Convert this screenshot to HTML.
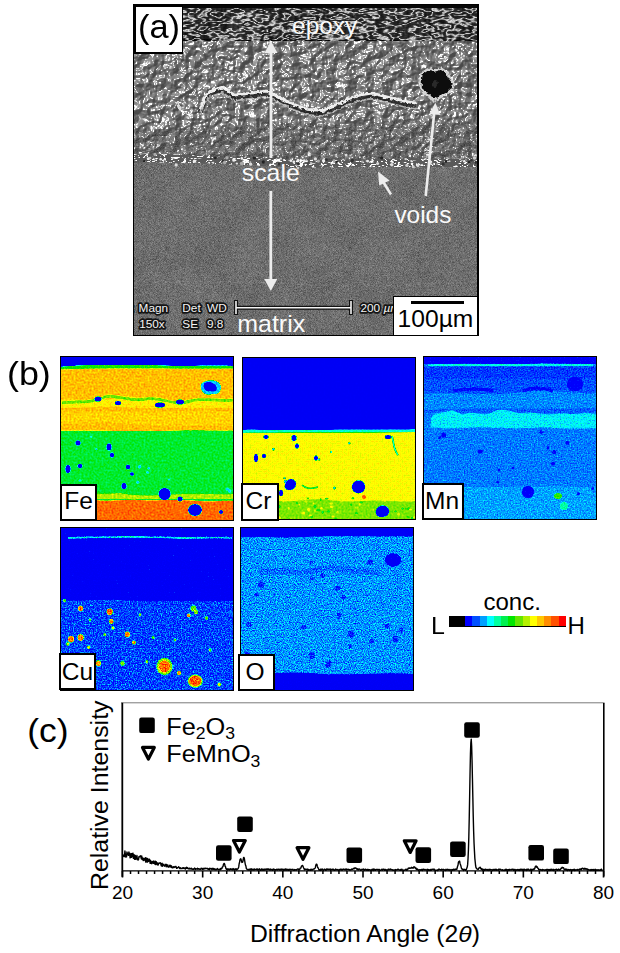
<!DOCTYPE html>
<html><head><meta charset="utf-8"><title>Figure</title>
<style>
html,body{margin:0;padding:0;background:#fff;}
body{width:620px;height:953px;position:relative;overflow:hidden;font-family:'Liberation Sans', Arial, sans-serif;}
.abs{position:absolute;}
.lbl{position:absolute;background:#fff;border:2.5px solid #000;box-sizing:border-box;color:#000;font-size:23px;line-height:1;}
</style></head><body>
<div class="abs" style="left:133px;top:4px;width:346px;height:332px;overflow:hidden;background:#666"><svg width="346" height="332" viewBox="0 0 346 332" style="position:absolute;left:0;top:0"><defs>
<filter id="fm" x="0" y="0" width="100%" height="100%" color-interpolation-filters="sRGB">
 <feTurbulence type="fractalNoise" baseFrequency="1.4" numOctaves="2" seed="4" result="n"/>
 <feColorMatrix in="n" type="matrix" values="1 0 0 0 0 1 0 0 0 0 1 0 0 0 0 0 0 0 0 1" result="g0"/>
 <feGaussianBlur in="g0" stdDeviation="0.45" result="g"/>
 <feTurbulence type="fractalNoise" baseFrequency="0.03" numOctaves="2" seed="9" result="n2"/>
 <feColorMatrix in="n2" type="matrix" values="1 0 0 0 0 1 0 0 0 0 1 0 0 0 0 0 0 0 0 1" result="g2"/>
 <feComposite in="SourceGraphic" in2="g" operator="arithmetic" k1="0" k2="1" k3="0.42" k4="-0.21" result="a"/>
 <feComposite in="a" in2="g2" operator="arithmetic" k1="0" k2="1" k3="0.06" k4="-0.03"/>
</filter>
<filter id="fs" x="0" y="0" width="100%" height="100%" color-interpolation-filters="sRGB">
 <feTurbulence type="fractalNoise" baseFrequency="0.11" numOctaves="4" seed="2" result="n"/>
 <feDiffuseLighting in="n" surfaceScale="7" diffuseConstant="1" lighting-color="#fff" result="d"><feDistantLight azimuth="225" elevation="45"/></feDiffuseLighting>
 <feSpecularLighting in="n" surfaceScale="7" specularConstant="1" specularExponent="25" lighting-color="#fff" result="sp"><feDistantLight azimuth="225" elevation="45"/></feSpecularLighting>
 <feColorMatrix in="sp" type="matrix" values="0 0 0 1 0 0 0 0 1 0 0 0 0 1 0 0 0 0 0 1" result="spg"/>
 <feComposite in="SourceGraphic" in2="d" operator="arithmetic" k1="0" k2="1" k3="0.28" k4="-0.18" result="a"/>
 <feComposite in="a" in2="spg" operator="arithmetic" k1="0" k2="1" k3="0.75" k4="0"/>
</filter>
<filter id="fs2" x="0" y="0" width="100%" height="100%" color-interpolation-filters="sRGB">
 <feTurbulence type="fractalNoise" baseFrequency="0.11" numOctaves="4" seed="2" result="n"/>
 <feDiffuseLighting in="n" surfaceScale="7" diffuseConstant="1" lighting-color="#fff" result="d"><feDistantLight azimuth="225" elevation="45"/></feDiffuseLighting>
 <feSpecularLighting in="n" surfaceScale="7" specularConstant="1" specularExponent="35" lighting-color="#fff" result="sp"><feDistantLight azimuth="225" elevation="45"/></feSpecularLighting>
 <feColorMatrix in="sp" type="matrix" values="0 0 0 1 0 0 0 0 1 0 0 0 0 1 0 0 0 0 0 1" result="spg"/>
 <feTurbulence type="fractalNoise" baseFrequency="0.8" numOctaves="1" seed="5" result="n3"/>
 <feColorMatrix in="n3" type="matrix" values="1 0 0 0 0 1 0 0 0 0 1 0 0 0 0 0 0 0 0 1" result="g3"/>
 <feComposite in="SourceGraphic" in2="d" operator="arithmetic" k1="0" k2="1" k3="0.2" k4="-0.13" result="a"/>
 <feComposite in="a" in2="spg" operator="arithmetic" k1="0" k2="1" k3="0.55" k4="0" result="b"/>
 <feComposite in="b" in2="g3" operator="arithmetic" k1="0" k2="1" k3="0.3" k4="-0.15"/>
</filter>
<filter id="fs3" x="0" y="0" width="100%" height="100%" color-interpolation-filters="sRGB">
 <feTurbulence type="fractalNoise" baseFrequency="0.14 0.25" numOctaves="2" seed="12" result="n"/>
 <feSpecularLighting in="n" surfaceScale="6" specularConstant="1.3" specularExponent="8" lighting-color="#fff" result="sp">
  <feDistantLight azimuth="225" elevation="50"/>
 </feSpecularLighting>
 <feColorMatrix in="sp" type="matrix" values="0 0 0 1 0 0 0 0 1 0 0 0 0 1 0 0 0 0 0 1" result="spg"/>
 <feComponentTransfer in="spg" result="spt"><feFuncR type="table" tableValues="0 0 0.1 0.6 1 1"/><feFuncG type="table" tableValues="0 0 0.1 0.6 1 1"/><feFuncB type="table" tableValues="0 0 0.1 0.6 1 1"/></feComponentTransfer>
 <feComposite in="SourceGraphic" in2="spt" operator="arithmetic" k1="0" k2="1" k3="0.7" k4="0"/>
</filter>
<filter id="rough" x="-10%" y="-30%" width="120%" height="160%">
 <feTurbulence type="fractalNoise" baseFrequency="0.3" numOctaves="2" seed="3" result="t"/>
 <feDisplacementMap in="SourceGraphic" in2="t" scale="4" xChannelSelector="R" yChannelSelector="G"/>
</filter>
<filter id="fe" x="0" y="0" width="100%" height="100%" color-interpolation-filters="sRGB">
 <feTurbulence type="fractalNoise" baseFrequency="0.05 0.11" numOctaves="3" seed="11" result="n"/>
 <feColorMatrix in="n" type="matrix" values="1 0 0 0 0 1 0 0 0 0 1 0 0 0 0 0 0 0 0 1" result="g"/>
 <feComponentTransfer in="g" result="r"><feFuncR type="table" tableValues="0 0 0 0 0.1 0.9 0.1 0 0.1 0.9 0.1 0 0.1 0.9 0.1 0 0 0 0"/><feFuncG type="table" tableValues="0 0 0 0 0.1 0.9 0.1 0 0.1 0.9 0.1 0 0.1 0.9 0.1 0 0 0 0"/><feFuncB type="table" tableValues="0 0 0 0 0.1 0.9 0.1 0 0.1 0.9 0.1 0 0.1 0.9 0.1 0 0 0 0"/></feComponentTransfer>
 <feGaussianBlur in="r" stdDeviation="0.35" result="rb"/>
 <feTurbulence type="fractalNoise" baseFrequency="0.3 0.02" numOctaves="2" seed="21" result="v"/>
 <feColorMatrix in="v" type="matrix" values="1 0 0 0 0 1 0 0 0 0 1 0 0 0 0 0 0 0 0 1" result="vg"/>
 <feComposite in="SourceGraphic" in2="rb" operator="arithmetic" k1="0" k2="1" k3="0.85" k4="0" result="a"/>
 <feComposite in="a" in2="vg" operator="arithmetic" k1="0" k2="1" k3="0.22" k4="-0.11"/>
</filter>
<filter id="blur1"><feGaussianBlur stdDeviation="0.6"/></filter>
<clipPath id="cm"><path d="M0 160 L346 160 L346 332 L0 332 Z"/></clipPath>
</defs><g filter="url(#fm)"><rect x="0" y="0" width="346" height="332" fill="#6d6d6d"/><path d="M0 279 C60 276 120 277 180 281 C240 284 300 279 346 278" stroke="#7c7c7c" stroke-width="1.6" fill="none" stroke-dasharray="6 5 3 7"/><ellipse cx="40" cy="240" rx="25" ry="14" fill="#707070"/><ellipse cx="240" cy="270" rx="20" ry="12" fill="#6f6f6f"/></g><clipPath id="c1"><path d="M0 36 L346 36 L346 163 C300 164 250 162 200 163.5 C150 164 80 158 0 158.5 Z"/></clipPath><clipPath id="c2"><path d="M0 36 L346 36 L346 118 C300 122 280 112 250 118 C200 128 150 110 110 122 C80 132 60 118 40 126 C20 132 10 124 0 128 Z"/></clipPath><clipPath id="c3"><path d="M0 150 C40 149 80 153 120 154 C160 155 200 157 240 155 C280 153 320 156 346 154 L346 163 C300 164 250 162 200 163.5 C150 164 80 158 0 158.5 Z"/></clipPath><g clip-path="url(#c1)"><rect x="0" y="30" width="346" height="140" fill="#6c6c6c" filter="url(#fs2)"/></g><g clip-path="url(#c2)"><rect x="0" y="30" width="346" height="110" fill="#787878" filter="url(#fs)"/></g><g clip-path="url(#c3)"><rect x="0" y="145" width="346" height="25" fill="#5a5a5a" filter="url(#fs3)"/></g><g filter="url(#fe)"><path d="M0 0 L346 0 L346 36 C300 37 250 35 200 36 C150 37 60 34 0 36 Z" fill="#1c1c1c"/></g><rect x="0" y="0" width="346" height="4" fill="#080808"/><g filter="url(#rough)"><polyline points="67.2,108.3 71.0,97.0 77.3,90.1 89.4,86.1 101.5,94.2 117.6,92.1 133.8,90.1 145.9,96.2 158.0,102.2 174.0,108.3 190.2,109.5 206.4,102.2 214.4,98.2 226.5,94.2 238.6,92.1 254.7,96.2 270.9,100.2 283.0,102.2" fill="none" stroke="#1e1e1e" stroke-width="5" stroke-linejoin="round" opacity="0.85"/><polyline points="67.2,110.8 71.0,99.5 77.3,92.6 89.4,88.6 101.5,96.7 117.6,94.6 133.8,92.6 145.9,98.7 158.0,104.7 174.0,110.8 190.2,112.0 206.4,104.7 214.4,100.7 226.5,96.7 238.6,94.6 254.7,98.7 270.9,102.7 283.0,104.7" fill="none" stroke="#cfcfcf" stroke-width="1.6" stroke-linejoin="round" opacity="0.8"/><polyline points="67.2,105.3 71.0,94.0 77.3,87.1 89.4,83.1 101.5,91.2 117.6,89.1 133.8,87.1 145.9,93.2 158.0,99.2 174.0,105.3 190.2,106.5 206.4,99.2 214.4,95.2 226.5,91.2 238.6,89.1 254.7,93.2 270.9,97.2 283.0,99.2" fill="none" stroke="#eeeeee" stroke-width="2.8" stroke-linejoin="round"/><path d="M43.5 97 L46 104 L48 106" stroke="#ddd" stroke-width="2.5" fill="none"/></g><g filter="url(#blur1)"><circle cx="82.3" cy="153.9" r="1.4" fill="#222"/><circle cx="201.0" cy="156.7" r="1.4" fill="#aaa"/><circle cx="89.7" cy="156.8" r="1.2" fill="#333"/><circle cx="164.8" cy="164.1" r="1.4" fill="#ccc"/><circle cx="80.2" cy="158.8" r="1.1" fill="#ddd"/><circle cx="232.3" cy="161.8" r="0.8" fill="#333"/><circle cx="14.8" cy="155.9" r="1.0" fill="#333"/><circle cx="248.7" cy="153.9" r="1.7" fill="#222"/><circle cx="272.7" cy="155.0" r="1.3" fill="#ccc"/><circle cx="304.1" cy="160.1" r="0.8" fill="#ccc"/><circle cx="171.2" cy="156.8" r="1.6" fill="#eee"/><circle cx="145.7" cy="160.0" r="1.6" fill="#333"/><circle cx="121.4" cy="153.9" r="1.7" fill="#222"/><circle cx="316.8" cy="157.2" r="0.7" fill="#eee"/><circle cx="342.9" cy="158.3" r="1.6" fill="#333"/><circle cx="313.0" cy="157.5" r="1.3" fill="#222"/><circle cx="226.8" cy="153.2" r="1.0" fill="#ddd"/><circle cx="22.0" cy="150.4" r="1.6" fill="#aaa"/><circle cx="30.6" cy="156.1" r="0.9" fill="#eee"/><circle cx="147.8" cy="154.6" r="1.2" fill="#ddd"/><circle cx="15.3" cy="154.7" r="1.5" fill="#eee"/><circle cx="190.6" cy="156.8" r="1.7" fill="#eee"/><circle cx="174.9" cy="158.9" r="0.8" fill="#333"/><circle cx="185.3" cy="157.1" r="1.7" fill="#aaa"/><circle cx="100.9" cy="155.9" r="1.8" fill="#eee"/><circle cx="108.6" cy="159.6" r="1.8" fill="#aaa"/><circle cx="130.4" cy="158.0" r="1.7" fill="#222"/><circle cx="193.5" cy="155.7" r="1.4" fill="#333"/><circle cx="93.9" cy="153.8" r="1.7" fill="#aaa"/><circle cx="338.3" cy="156.3" r="1.3" fill="#333"/><circle cx="117.3" cy="157.9" r="1.0" fill="#aaa"/><circle cx="213.1" cy="151.1" r="1.4" fill="#ddd"/><circle cx="219.2" cy="156.5" r="1.7" fill="#333"/><circle cx="244.6" cy="159.6" r="1.5" fill="#ddd"/><circle cx="203.9" cy="157.8" r="1.1" fill="#222"/><circle cx="157.9" cy="156.7" r="1.4" fill="#eee"/><circle cx="61.4" cy="157.2" r="1.6" fill="#eee"/><circle cx="103.9" cy="159.6" r="1.1" fill="#ddd"/><circle cx="336.1" cy="158.4" r="1.3" fill="#222"/><circle cx="278.1" cy="157.1" r="1.0" fill="#ccc"/><circle cx="234.6" cy="157.1" r="1.4" fill="#eee"/><circle cx="233.5" cy="156.9" r="0.9" fill="#ccc"/><circle cx="27.7" cy="155.2" r="1.3" fill="#eee"/><circle cx="77.9" cy="154.4" r="0.8" fill="#333"/><circle cx="331.3" cy="157.2" r="1.3" fill="#eee"/><circle cx="117.7" cy="160.2" r="1.6" fill="#ddd"/><circle cx="279.0" cy="157.6" r="1.0" fill="#eee"/><circle cx="160.8" cy="157.8" r="1.4" fill="#eee"/><circle cx="145.2" cy="152.5" r="0.9" fill="#ddd"/><circle cx="165.2" cy="159.6" r="1.6" fill="#333"/><circle cx="341.5" cy="154.0" r="1.7" fill="#ccc"/><circle cx="11.2" cy="157.3" r="1.2" fill="#222"/><circle cx="258.8" cy="160.7" r="1.7" fill="#ddd"/><circle cx="296.9" cy="157.8" r="1.8" fill="#ddd"/><circle cx="280.3" cy="162.8" r="1.5" fill="#ccc"/><circle cx="310.2" cy="159.9" r="1.7" fill="#333"/><circle cx="17.1" cy="154.1" r="1.3" fill="#ccc"/><circle cx="229.4" cy="157.8" r="1.3" fill="#aaa"/><circle cx="18.4" cy="156.1" r="0.8" fill="#333"/><circle cx="165.1" cy="156.3" r="1.6" fill="#eee"/><circle cx="76.4" cy="159.2" r="0.8" fill="#ccc"/><circle cx="273.9" cy="161.4" r="1.7" fill="#ccc"/><circle cx="284.9" cy="161.4" r="1.6" fill="#ddd"/><circle cx="261.7" cy="158.2" r="1.0" fill="#333"/><circle cx="182.4" cy="154.9" r="1.6" fill="#ddd"/><circle cx="296.5" cy="159.6" r="1.6" fill="#ddd"/><circle cx="43.1" cy="160.9" r="1.6" fill="#ddd"/><circle cx="178.3" cy="159.5" r="1.2" fill="#ccc"/><circle cx="108.8" cy="154.4" r="1.3" fill="#eee"/><circle cx="91.7" cy="158.6" r="1.8" fill="#aaa"/></g><g filter="url(#rough)"><path d="M288.6 69.4 L294.4 65.5 L301.2 66.5 L308 64.6 L313.8 68.4 L317.7 75.2 L321.5 80 L318.6 85.8 L313.8 89.7 L306 93.6 L300.2 96.5 L296.4 91.7 L291.5 89.7 L287.6 83 L287.6 76.2 Z" fill="#0a0a0a" stroke="#d4d4d4" stroke-width="2.4" stroke-linejoin="round"/><ellipse cx="302" cy="80" rx="3" ry="4" fill="#2a2a2a"/></g><g fill="#ececec" stroke="none"><rect x="136.6" y="47" width="2.8" height="107"/><path d="M138 37 L144.5 49 L131.5 49 Z"/><rect x="136.4" y="187" width="2.8" height="92"/><path d="M137.8 287 L144.3 275 L131.3 275 Z"/></g><line x1="292.7" y1="192" x2="301.3" y2="108" stroke="#ececec" stroke-width="2.6"/><path d="M302.3 98.5 L307.4 111 L296.6 110 Z" fill="#ececec"/><line x1="258" y1="190.5" x2="249" y2="176" stroke="#ececec" stroke-width="2.6"/><path d="M245 167.4 L256.5 176.4 L246.2 181.6 Z" fill="#ececec"/><g stroke="#111" stroke-width="4"><line x1="103" y1="303.7" x2="218" y2="303.7"/><line x1="103" y1="296" x2="103" y2="311"/><line x1="218" y1="296" x2="218" y2="311"/></g><g stroke="#f4f4f4" stroke-width="1.6"><line x1="103" y1="303.7" x2="218" y2="303.7"/><line x1="103" y1="297" x2="103" y2="310"/><line x1="218" y1="297" x2="218" y2="310"/></g><g font-family="'Liberation Sans', Arial, sans-serif" font-size="11.8" fill="#f4f4f4" stroke="#151515" stroke-width="3.4" stroke-linejoin="round" paint-order="stroke"><text x="-3.5" y="308">t</text><text x="5.6" y="308">Magn</text><text x="6.2" y="323.5">150x</text><text x="49.3" y="308">Det</text><text x="49.3" y="323.5">SE</text><text x="74" y="308">WD</text><text x="74" y="323.5">9.8</text><text x="227.5" y="307.5">200 <tspan font-style="italic">µm</tspan></text></g><g font-family="'Liberation Sans', Arial, sans-serif" font-size="24" fill="#fafafa"><text x="159.1" y="30" textLength="65" lengthAdjust="spacingAndGlyphs">epoxy</text><text x="108.8" y="176.9" textLength="57.9" lengthAdjust="spacingAndGlyphs">scale</text><text x="261.4" y="219.1" textLength="57" lengthAdjust="spacingAndGlyphs">voids</text><text x="104.2" y="327.6" textLength="68" lengthAdjust="spacingAndGlyphs">matrix</text></g></svg><div class="abs" style="left:0;top:0;width:50px;height:49.8px;box-sizing:border-box;background:#fff;border:solid #000;border-width:3.7px 1.8px 2px 3.4px;"></div><div class="abs" style="left:5.2px;top:5.5px;font-size:33.5px;transform:scaleX(1.025);transform-origin:0 0;line-height:1;color:#000">(a)</div><div class="abs" style="left:259.5px;top:291.6px;width:86.5px;height:40.4px;background:#fff;border-left:1.5px solid #000;border-top:1.5px solid #000;"></div><div class="abs" style="left:277.5px;top:297.3px;width:53.5px;height:3px;background:#000"></div><div class="abs" style="left:264.6px;top:303.3px;font-size:24.6px;line-height:1;color:#000">100µm</div><div class="abs" style="left:0;top:0;width:346px;height:332px;box-sizing:border-box;border:1.5px solid #000;border-right-width:2px"></div></div><svg width="0" height="0" style="position:absolute"><defs><filter id="jfe" x="0" y="0" width="100%" height="100%" color-interpolation-filters="sRGB">
 <feTurbulence type="fractalNoise" baseFrequency="0.5" numOctaves="2" seed="3" result="n"/>
 <feColorMatrix in="n" type="matrix" values="1 0 0 0 0 1 0 0 0 0 1 0 0 0 0 0 0 0 0 1" result="gn"/>
 <feComposite in="SourceGraphic" in2="gn" operator="arithmetic" k1="0" k2="1" k3="0.2" k4="-0.100" result="s"/>
 <feComponentTransfer in="s" result="c"><feFuncR type="table" tableValues="0.000 0.000 0.000 0.000 0.000 0.000 0.000 0.000 0.000 0.392 0.706 1.000 1.000 1.000 1.000 1.000"/><feFuncG type="table" tableValues="0.000 0.000 0.000 0.314 0.627 1.000 1.000 0.941 0.902 0.902 0.941 1.000 0.784 0.549 0.314 0.000"/><feFuncB type="table" tableValues="0.961 0.980 1.000 1.000 1.000 1.000 0.627 0.314 0.000 0.000 0.000 0.000 0.000 0.000 0.000 0.000"/></feComponentTransfer>
 <feGaussianBlur in="c" stdDeviation="0.4"/>
</filter><filter id="jcr" x="0" y="0" width="100%" height="100%" color-interpolation-filters="sRGB">
 <feTurbulence type="fractalNoise" baseFrequency="0.5" numOctaves="2" seed="4" result="n"/>
 <feColorMatrix in="n" type="matrix" values="1 0 0 0 0 1 0 0 0 0 1 0 0 0 0 0 0 0 0 1" result="gn"/>
 <feComposite in="SourceGraphic" in2="gn" operator="arithmetic" k1="0" k2="1" k3="0.14" k4="-0.070" result="s"/>
 <feComponentTransfer in="s" result="c"><feFuncR type="table" tableValues="0.000 0.000 0.000 0.000 0.000 0.000 0.000 0.000 0.000 0.392 0.706 1.000 1.000 1.000 1.000 1.000"/><feFuncG type="table" tableValues="0.000 0.000 0.000 0.314 0.627 1.000 1.000 0.941 0.902 0.902 0.941 1.000 0.784 0.549 0.314 0.000"/><feFuncB type="table" tableValues="0.961 0.980 1.000 1.000 1.000 1.000 0.627 0.314 0.000 0.000 0.000 0.000 0.000 0.000 0.000 0.000"/></feComponentTransfer>
 <feGaussianBlur in="c" stdDeviation="0.4"/>
</filter><filter id="jmn" x="0" y="0" width="100%" height="100%" color-interpolation-filters="sRGB">
 <feTurbulence type="fractalNoise" baseFrequency="0.7" numOctaves="2" seed="5" result="n"/>
 <feColorMatrix in="n" type="matrix" values="1 0 0 0 0 1 0 0 0 0 1 0 0 0 0 0 0 0 0 1" result="gn"/>
 <feComposite in="SourceGraphic" in2="gn" operator="arithmetic" k1="0" k2="1" k3="0.22" k4="-0.110" result="s"/>
 <feComponentTransfer in="s" result="c"><feFuncR type="table" tableValues="0.000 0.000 0.000 0.000 0.000 0.000 0.000 0.000 0.000 0.392 0.706 1.000 1.000 1.000 1.000 1.000"/><feFuncG type="table" tableValues="0.000 0.000 0.000 0.314 0.627 1.000 1.000 0.941 0.902 0.902 0.941 1.000 0.784 0.549 0.314 0.000"/><feFuncB type="table" tableValues="0.961 0.980 1.000 1.000 1.000 1.000 0.627 0.314 0.000 0.000 0.000 0.000 0.000 0.000 0.000 0.000"/></feComponentTransfer>
 <feGaussianBlur in="c" stdDeviation="0.7"/>
</filter><filter id="jcu" x="0" y="0" width="100%" height="100%" color-interpolation-filters="sRGB">
 <feTurbulence type="fractalNoise" baseFrequency="0.75" numOctaves="2" seed="6" result="n"/>
 <feColorMatrix in="n" type="matrix" values="1 0 0 0 0 1 0 0 0 0 1 0 0 0 0 0 0 0 0 1" result="gn"/>
 <feComposite in="SourceGraphic" in2="gn" operator="arithmetic" k1="0" k2="1" k3="0.45" k4="-0.225" result="s"/>
 <feComponentTransfer in="s" result="c"><feFuncR type="table" tableValues="0.000 0.000 0.000 0.000 0.000 0.000 0.000 0.000 0.000 0.392 0.706 1.000 1.000 1.000 1.000 1.000"/><feFuncG type="table" tableValues="0.000 0.000 0.000 0.314 0.627 1.000 1.000 0.941 0.902 0.902 0.941 1.000 0.784 0.549 0.314 0.000"/><feFuncB type="table" tableValues="0.961 0.980 1.000 1.000 1.000 1.000 0.627 0.314 0.000 0.000 0.000 0.000 0.000 0.000 0.000 0.000"/></feComponentTransfer>
 <feGaussianBlur in="c" stdDeviation="0.5"/>
</filter><filter id="jo" x="0" y="0" width="100%" height="100%" color-interpolation-filters="sRGB">
 <feTurbulence type="fractalNoise" baseFrequency="0.85" numOctaves="2" seed="7" result="n"/>
 <feColorMatrix in="n" type="matrix" values="1 0 0 0 0 1 0 0 0 0 1 0 0 0 0 0 0 0 0 1" result="gn"/>
 <feComposite in="SourceGraphic" in2="gn" operator="arithmetic" k1="0" k2="1" k3="0.42" k4="-0.210" result="s"/>
 <feComponentTransfer in="s" result="c"><feFuncR type="table" tableValues="0.000 0.000 0.000 0.000 0.000 0.000 0.000 0.000 0.000 0.392 0.706 1.000 1.000 1.000 1.000 1.000"/><feFuncG type="table" tableValues="0.000 0.000 0.000 0.314 0.627 1.000 1.000 0.941 0.902 0.902 0.941 1.000 0.784 0.549 0.314 0.000"/><feFuncB type="table" tableValues="0.961 0.980 1.000 1.000 1.000 1.000 0.627 0.314 0.000 0.000 0.000 0.000 0.000 0.000 0.000 0.000"/></feComponentTransfer>
 <feGaussianBlur in="c" stdDeviation="0.55"/>
</filter></defs></svg><div class="abs" style="left:60px;top:356px;width:174px;height:164.5px;overflow:hidden"><svg width="174" height="164.5" viewBox="0 0 174 164.5" style="position:absolute;left:0;top:0"><g filter="url(#jfe)"><rect width="174" height="164.5" fill="rgb(206,206,206)"/><path d="M0 0 H174 V10 C150 9 120 11 90 9 C60 10 30 8 0 11 Z" fill="rgb(3,3,3)"/><path d="M0 11 C30 8 60 10 90 9 C120 11 150 9 174 10 V12.5 C120 13.5 60 11.5 0 13.5 Z" fill="rgb(136,136,136)"/><path d="M0 44 C20 42 40 47 60 41 C80 38 100 49 120 45 C140 43 160 47 174 43 V52 C140 51 100 53 60 51 C40 50 20 52 0 52 Z" fill="rgb(192,192,192)"/><path d="M0 56 C40 54 80 57 120 55 C140 54 160 56 174 55 V70 C140 68 100 72 60 67 C40 65 20 69 0 68 Z" fill="rgb(200,200,200)"/><path d="M2 47 C15 45 30 48 45 41 C55 37 70 47 85 43 C100 40 115 51 130 45 C145 41 160 46 174 44" stroke="rgb(153,153,153)" stroke-width="3" fill="none"/><path d="M0 75 C40 74 80 76 120 74.5 C140 74 160 75 174 74.5 V164.5 H0 Z" fill="rgb(126,126,126)"/><path d="M0 138 C20 136 40 139 60 137 C80 141 100 139 120 138 C140 137 160 139 174 138 V143 H0 Z" fill="rgb(170,170,170)"/><path d="M0 143 C15 140 25 141 35 144 C50 146 60 143 80 144 C100 145 120 143 140 145 C155 146 165 144 174 145 V164.5 H0 Z" fill="rgb(231,231,231)"/><path d="M141 28 C146 23 156 23 160 28 C163 33 159 40 152 38 C146 41 139 35 141 28 Z" fill="rgb(76,76,76)"/><path d="M144 28 C147 25 153 26 156 30 C158 35 154 36 150 35 C146 36 143 32 144 28 Z" fill="rgb(3,3,3)"/><ellipse cx="38" cy="43" rx="3.5" ry="2.5" fill="rgb(3,3,3)"/><ellipse cx="58" cy="47" rx="3" ry="2" fill="rgb(3,3,3)"/><ellipse cx="100" cy="49" rx="5" ry="2.5" fill="rgb(3,3,3)"/><ellipse cx="120" cy="46" rx="4" ry="2.5" fill="rgb(3,3,3)"/><ellipse cx="104.6" cy="138" rx="6" ry="6" fill="rgb(3,3,3)"/><ellipse cx="135" cy="154" rx="7" ry="6" fill="rgb(3,3,3)"/><ellipse cx="120" cy="143" rx="2.5" ry="2.5" fill="rgb(3,3,3)"/><ellipse cx="161" cy="156" rx="2" ry="2" fill="rgb(3,3,3)"/><ellipse cx="18" cy="87" rx="2.5" ry="2.5" fill="rgb(3,3,3)"/><ellipse cx="49" cy="91" rx="2.5" ry="3.5" fill="rgb(3,3,3)"/><ellipse cx="52" cy="99" rx="2" ry="2.5" fill="rgb(3,3,3)"/><ellipse cx="8" cy="113" rx="2.5" ry="4" fill="rgb(3,3,3)"/><ellipse cx="20" cy="110" rx="2.5" ry="2" fill="rgb(3,3,3)"/><ellipse cx="68" cy="111" rx="2.2" ry="2.2" fill="rgb(3,3,3)"/><ellipse cx="72" cy="118" rx="1.8" ry="1.8" fill="rgb(3,3,3)"/><ellipse cx="64" cy="130" rx="2.5" ry="3" fill="rgb(3,3,3)"/><ellipse cx="79.6" cy="110.8" rx="1.7" ry="1.7" fill="rgb(76,76,76)"/><ellipse cx="88.8" cy="112.3" rx="1.1" ry="1.2" fill="rgb(76,76,76)"/><ellipse cx="108.9" cy="123.6" rx="1.1" ry="0.9" fill="rgb(76,76,76)"/><ellipse cx="20.0" cy="124.5" rx="1.6" ry="1.1" fill="rgb(76,76,76)"/><ellipse cx="167.1" cy="133.1" rx="1.5" ry="1.6" fill="rgb(76,76,76)"/><ellipse cx="31.0" cy="80.8" rx="1.4" ry="1.0" fill="rgb(76,76,76)"/><ellipse cx="36.4" cy="93.3" rx="1.0" ry="1.0" fill="rgb(76,76,76)"/><ellipse cx="77.7" cy="126.3" rx="1.4" ry="1.5" fill="rgb(76,76,76)"/><ellipse cx="87.5" cy="116.4" rx="1.4" ry="1.2" fill="rgb(76,76,76)"/><ellipse cx="169.6" cy="134.8" rx="1.7" ry="1.9" fill="rgb(76,76,76)"/></g></svg><div class="abs" style="left:0;top:0;width:174px;height:164.5px;box-sizing:border-box;border:1.5px solid #000"></div></div><div class="lbl" style="left:59.5px;top:483.5px;width:37.3px;height:37px;"></div><div class="abs" style="left:64.3px;top:489px;font-size:24.5px;line-height:1;color:#000">Fe</div><div class="abs" style="left:242px;top:356.5px;width:173.5px;height:163.5px;overflow:hidden"><svg width="173.5" height="163.5" viewBox="0 0 173.5 163.5" style="position:absolute;left:0;top:0"><g filter="url(#jcr)"><rect width="173.5" height="163.5" fill="rgb(187,187,187)"/><path d="M0 0 H173.5 V72.5 C140 73.5 100 72 60 73.5 C40 74 20 72 0 73 Z" fill="rgb(3,3,3)"/><path d="M0 73 C20 72 40 74 60 73.5 C100 72 140 73.5 173.5 72.5 V75 C120 76 60 75 0 76 Z" fill="rgb(94,94,94)"/><path d="M0 144 C20 141 40 147 60 143 C80 140 100 146 120 144 C140 142 160 146 173.5 144 V163.5 H0 Z" fill="rgb(158,158,158)"/><ellipse cx="54.9" cy="146.1" rx="1.1" ry="0.9" fill="rgb(128,128,128)"/><ellipse cx="69.7" cy="159.6" rx="1.3" ry="1.6" fill="rgb(128,128,128)"/><ellipse cx="37.1" cy="161.4" rx="0.9" ry="1.1" fill="rgb(187,187,187)"/><ellipse cx="73.0" cy="153.5" rx="1.0" ry="1.3" fill="rgb(178,178,178)"/><ellipse cx="15.2" cy="148.3" rx="2.0" ry="1.4" fill="rgb(128,128,128)"/><ellipse cx="23.4" cy="156.6" rx="0.8" ry="1.2" fill="rgb(187,187,187)"/><ellipse cx="30.9" cy="153.3" rx="1.3" ry="1.0" fill="rgb(136,136,136)"/><ellipse cx="72.9" cy="149.4" rx="1.3" ry="1.6" fill="rgb(128,128,128)"/><ellipse cx="46.9" cy="162.4" rx="1.8" ry="1.0" fill="rgb(128,128,128)"/><ellipse cx="36.7" cy="149.7" rx="1.8" ry="1.3" fill="rgb(128,128,128)"/><ellipse cx="7.3" cy="144.2" rx="1.3" ry="0.8" fill="rgb(187,187,187)"/><ellipse cx="57.2" cy="147.5" rx="0.9" ry="0.9" fill="rgb(187,187,187)"/><ellipse cx="110.8" cy="141.3" rx="1.2" ry="1.3" fill="rgb(136,136,136)"/><ellipse cx="166.9" cy="151.6" rx="1.5" ry="1.5" fill="rgb(136,136,136)"/><ellipse cx="109.1" cy="147.8" rx="1.1" ry="1.3" fill="rgb(136,136,136)"/><ellipse cx="27.6" cy="154.8" rx="1.5" ry="1.3" fill="rgb(187,187,187)"/><ellipse cx="153.5" cy="154.3" rx="1.3" ry="0.9" fill="rgb(128,128,128)"/><ellipse cx="89.1" cy="146.6" rx="1.7" ry="1.1" fill="rgb(187,187,187)"/><ellipse cx="143.3" cy="154.1" rx="1.2" ry="0.9" fill="rgb(128,128,128)"/><ellipse cx="22.0" cy="151.5" rx="1.6" ry="1.3" fill="rgb(128,128,128)"/><ellipse cx="48.8" cy="161.2" rx="1.0" ry="0.8" fill="rgb(178,178,178)"/><ellipse cx="71.6" cy="146.5" rx="0.9" ry="1.0" fill="rgb(187,187,187)"/><ellipse cx="99.6" cy="143.9" rx="1.2" ry="1.5" fill="rgb(178,178,178)"/><ellipse cx="114.3" cy="156.2" rx="1.5" ry="0.9" fill="rgb(128,128,128)"/><ellipse cx="160.7" cy="151.4" rx="1.2" ry="1.0" fill="rgb(128,128,128)"/><ellipse cx="3.7" cy="155.0" rx="1.4" ry="1.4" fill="rgb(178,178,178)"/><ellipse cx="23.8" cy="142.6" rx="1.3" ry="1.1" fill="rgb(128,128,128)"/><ellipse cx="156.6" cy="157.2" rx="1.6" ry="1.4" fill="rgb(178,178,178)"/><ellipse cx="61.2" cy="156.1" rx="1.9" ry="1.5" fill="rgb(187,187,187)"/><ellipse cx="164.3" cy="141.7" rx="1.4" ry="0.8" fill="rgb(187,187,187)"/><ellipse cx="66.0" cy="141.3" rx="0.9" ry="0.9" fill="rgb(128,128,128)"/><ellipse cx="172.8" cy="160.4" rx="1.7" ry="1.1" fill="rgb(187,187,187)"/><ellipse cx="79.6" cy="151.2" rx="1.4" ry="1.2" fill="rgb(187,187,187)"/><ellipse cx="5.2" cy="154.2" rx="1.4" ry="1.0" fill="rgb(128,128,128)"/><ellipse cx="86.5" cy="154.5" rx="1.9" ry="1.0" fill="rgb(128,128,128)"/><ellipse cx="64.0" cy="144.2" rx="1.5" ry="1.2" fill="rgb(178,178,178)"/><ellipse cx="114.8" cy="150.7" rx="1.9" ry="1.1" fill="rgb(178,178,178)"/><ellipse cx="34.5" cy="150.5" rx="1.8" ry="1.5" fill="rgb(136,136,136)"/><ellipse cx="66.9" cy="153.8" rx="1.2" ry="0.9" fill="rgb(187,187,187)"/><ellipse cx="61.0" cy="160.7" rx="0.8" ry="0.9" fill="rgb(178,178,178)"/><ellipse cx="143.0" cy="143.5" rx="1.4" ry="1.5" fill="rgb(187,187,187)"/><ellipse cx="66.6" cy="152.4" rx="1.6" ry="1.4" fill="rgb(187,187,187)"/><ellipse cx="78.7" cy="142.6" rx="0.8" ry="1.5" fill="rgb(128,128,128)"/><ellipse cx="118.0" cy="147.2" rx="1.2" ry="1.3" fill="rgb(187,187,187)"/><ellipse cx="3.3" cy="144.0" rx="1.3" ry="0.8" fill="rgb(178,178,178)"/><ellipse cx="41.3" cy="144.1" rx="0.9" ry="1.3" fill="rgb(187,187,187)"/><ellipse cx="19.0" cy="152.8" rx="1.6" ry="1.1" fill="rgb(128,128,128)"/><ellipse cx="119.1" cy="145.4" rx="1.4" ry="0.9" fill="rgb(128,128,128)"/><ellipse cx="131.4" cy="152.8" rx="0.8" ry="1.0" fill="rgb(178,178,178)"/><ellipse cx="93.9" cy="161.8" rx="1.4" ry="1.6" fill="rgb(136,136,136)"/><ellipse cx="68.5" cy="158.4" rx="1.9" ry="0.9" fill="rgb(187,187,187)"/><ellipse cx="22.6" cy="151.0" rx="1.6" ry="1.5" fill="rgb(187,187,187)"/><ellipse cx="95.7" cy="155.4" rx="1.4" ry="1.5" fill="rgb(178,178,178)"/><ellipse cx="80.7" cy="155.3" rx="1.0" ry="1.4" fill="rgb(128,128,128)"/><ellipse cx="37.1" cy="160.8" rx="2.0" ry="1.6" fill="rgb(187,187,187)"/><ellipse cx="170.0" cy="161.5" rx="1.1" ry="1.4" fill="rgb(128,128,128)"/><ellipse cx="60.6" cy="142.8" rx="1.3" ry="1.2" fill="rgb(178,178,178)"/><ellipse cx="84.8" cy="141.6" rx="1.8" ry="0.9" fill="rgb(128,128,128)"/><ellipse cx="30.1" cy="148.4" rx="1.7" ry="0.9" fill="rgb(136,136,136)"/><ellipse cx="174.0" cy="160.8" rx="1.4" ry="1.3" fill="rgb(187,187,187)"/><ellipse cx="164.6" cy="151.8" rx="1.9" ry="0.9" fill="rgb(136,136,136)"/><ellipse cx="76.5" cy="153.3" rx="1.8" ry="1.2" fill="rgb(136,136,136)"/><ellipse cx="91.0" cy="159.6" rx="1.5" ry="1.0" fill="rgb(187,187,187)"/><ellipse cx="166.1" cy="160.1" rx="1.5" ry="1.0" fill="rgb(136,136,136)"/><ellipse cx="168.5" cy="152.5" rx="1.5" ry="1.0" fill="rgb(187,187,187)"/><ellipse cx="19.9" cy="141.1" rx="1.3" ry="1.2" fill="rgb(128,128,128)"/><ellipse cx="89.8" cy="149.8" rx="1.8" ry="1.3" fill="rgb(187,187,187)"/><ellipse cx="16.2" cy="144.7" rx="1.9" ry="1.2" fill="rgb(187,187,187)"/><ellipse cx="46.8" cy="151.4" rx="1.0" ry="1.1" fill="rgb(187,187,187)"/><ellipse cx="91.3" cy="143.4" rx="1.3" ry="0.8" fill="rgb(178,178,178)"/><path d="M43 128 C44 122 50 120 53 124 C56 128 52 133 48 133 C44 133 42 131 43 128 Z" fill="rgb(3,3,3)"/><path d="M110 129 C111 124 117 122 121 125 C125 129 123 135 118 136 C113 137 109 133 110 129 Z" fill="rgb(3,3,3)"/><path d="M134 153 C136 148 143 147 146 151 C149 155 146 160 140 160 C135 160 133 157 134 153 Z" fill="rgb(3,3,3)"/><ellipse cx="122" cy="140" rx="2" ry="2" fill="rgb(238,238,238)"/><ellipse cx="24" cy="80" rx="2.5" ry="2" fill="rgb(3,3,3)"/><ellipse cx="52" cy="81" rx="2.5" ry="3" fill="rgb(3,3,3)"/><ellipse cx="55" cy="89" rx="2" ry="2.5" fill="rgb(3,3,3)"/><ellipse cx="14" cy="101" rx="2" ry="4" fill="rgb(3,3,3)"/><ellipse cx="22" cy="99" rx="2" ry="2" fill="rgb(3,3,3)"/><ellipse cx="74" cy="101" rx="2" ry="2.5" fill="rgb(3,3,3)"/><ellipse cx="146" cy="80" rx="3" ry="2" fill="rgb(3,3,3)"/><ellipse cx="39" cy="136" rx="2" ry="3" fill="rgb(3,3,3)"/><path d="M150 79 C152 86 151 92 156 98" stroke="rgb(94,94,94)" stroke-width="1.5" fill="none"/><path d="M60 128 C64 132 70 132 76 130" stroke="rgb(119,119,119)" stroke-width="1.5" fill="none"/><ellipse cx="26.4" cy="126.8" rx="0.8" ry="0.7" fill="rgb(68,68,68)"/><ellipse cx="42.5" cy="121.2" rx="1.0" ry="0.9" fill="rgb(68,68,68)"/><ellipse cx="107.3" cy="86.3" rx="1.2" ry="1.0" fill="rgb(68,68,68)"/><ellipse cx="89.2" cy="95.0" rx="0.9" ry="0.9" fill="rgb(68,68,68)"/><ellipse cx="77.1" cy="102.5" rx="1.0" ry="1.1" fill="rgb(68,68,68)"/><ellipse cx="31.4" cy="92.3" rx="1.2" ry="1.3" fill="rgb(68,68,68)"/><ellipse cx="92.4" cy="131.1" rx="1.2" ry="1.4" fill="rgb(68,68,68)"/><ellipse cx="43.4" cy="124.4" rx="1.3" ry="1.6" fill="rgb(68,68,68)"/></g></svg><div class="abs" style="left:0;top:0;width:173.5px;height:163.5px;box-sizing:border-box;border:1.5px solid #000"></div></div><div class="lbl" style="left:241px;top:483.2px;width:37.8px;height:37.6px;"></div><div class="abs" style="left:245.6px;top:489px;font-size:24.5px;line-height:1;color:#000">Cr</div><div class="abs" style="left:423px;top:356px;width:174px;height:163.5px;overflow:hidden"><svg width="174" height="163.5" viewBox="0 0 174 163.5" style="position:absolute;left:0;top:0"><g filter="url(#jmn)"><rect width="174" height="163.5" fill="rgb(60,60,60)"/><rect width="174" height="8" fill="rgb(26,26,26)"/><path d="M0 11 H174 V40 C120 42 60 39 0 41 Z" fill="rgb(51,51,51)"/><path d="M0 50 C40 48 80 52 120 49 C140 48 160 50 174 49 V57 H0 Z" fill="rgb(53,53,53)"/><path d="M5 9.5 C40 8 80 10 120 8.5 C140 8.5 160 9.5 170 9" stroke="rgb(90,90,90)" stroke-width="2.2" fill="none"/><path d="M0 10.5 H174 V22 C120 24 60 21 0 23 Z" fill="rgb(46,46,46)"/><path d="M0 38 C30 35 60 41 100 36 C130 33 150 38 174 37 V52 C120 54 60 51 0 54 Z" fill="rgb(63,63,63)"/><path d="M8 62 C12 55 20 57 26 55 C32 52 36 60 42 58 C50 54 60 62 70 56 C80 50 90 58 100 57 C110 55 120 60 130 58 C140 56 150 60 160 57 C165 56 170 58 174 58 V72 C140 74 120 70 100 72 C80 73 60 70 40 72 C20 73 10 71 8 72 Z" fill="rgb(83,83,83)"/><path d="M0 132 C40 129 80 133 120 130 C140 130 160 132 174 131 V163.5 H0 Z" fill="rgb(68,68,68)"/><ellipse cx="152" cy="28" rx="8" ry="7" fill="rgb(26,26,26)"/><ellipse cx="105" cy="136" rx="6" ry="6" fill="rgb(26,26,26)"/><ellipse cx="135" cy="140" rx="4" ry="3" fill="rgb(144,144,144)"/><ellipse cx="141" cy="150" rx="4" ry="4" fill="rgb(102,102,102)"/><path d="M30 35 C40 33 60 32 70 35" stroke="rgb(31,31,31)" stroke-width="3" fill="none"/><path d="M100 35 C110 30 125 33 130 35" stroke="rgb(31,31,31)" stroke-width="3" fill="none"/><ellipse cx="57.1" cy="95.5" rx="2.5" ry="2.1" fill="rgb(26,26,26)"/><ellipse cx="169.7" cy="132.7" rx="1.4" ry="1.2" fill="rgb(26,26,26)"/><ellipse cx="124.9" cy="91.9" rx="1.3" ry="1.6" fill="rgb(26,26,26)"/><ellipse cx="74.6" cy="126.3" rx="1.4" ry="1.3" fill="rgb(26,26,26)"/><ellipse cx="118.1" cy="76.2" rx="1.5" ry="1.6" fill="rgb(26,26,26)"/><ellipse cx="155.4" cy="137.9" rx="1.4" ry="1.4" fill="rgb(26,26,26)"/><ellipse cx="130.1" cy="107.7" rx="2.2" ry="1.8" fill="rgb(26,26,26)"/><ellipse cx="16.6" cy="81.9" rx="1.3" ry="1.3" fill="rgb(26,26,26)"/><ellipse cx="89.9" cy="112.0" rx="1.4" ry="1.1" fill="rgb(26,26,26)"/><ellipse cx="38.6" cy="129.6" rx="2.6" ry="3.2" fill="rgb(26,26,26)"/><ellipse cx="20.7" cy="79.0" rx="2.5" ry="2.5" fill="rgb(26,26,26)"/><ellipse cx="131.2" cy="96.2" rx="1.9" ry="1.9" fill="rgb(26,26,26)"/><ellipse cx="76.0" cy="114.1" rx="1.2" ry="1.4" fill="rgb(26,26,26)"/><ellipse cx="144.3" cy="86.8" rx="1.8" ry="2.1" fill="rgb(26,26,26)"/></g></svg><div class="abs" style="left:0;top:0;width:174px;height:163.5px;box-sizing:border-box;border:1.5px solid #000"></div></div><div class="lbl" style="left:421.8px;top:483.2px;width:42.7px;height:37.3px;"></div><div class="abs" style="left:425px;top:489px;font-size:24.5px;line-height:1;color:#000">Mn</div><div class="abs" style="left:60px;top:527px;width:174px;height:164px;overflow:hidden"><svg width="174" height="164" viewBox="0 0 174 164" style="position:absolute;left:0;top:0"><g filter="url(#jcu)"><rect width="174" height="164" fill="rgb(47,47,47)"/><path d="M0 0 H174 V74 C140 73 100 75 60 73 C40 72 20 74 0 73 Z" fill="rgb(3,3,3)"/><path d="M8 11 C40 10 80 9 120 11 C140 11 160 10 172 11" stroke="rgb(85,85,85)" stroke-width="2" fill="none"/><ellipse cx="20.6" cy="81.5" rx="2.5" ry="2.8" fill="rgb(230,230,230)"/><ellipse cx="49.7" cy="84.8" rx="3.0" ry="3.3" fill="rgb(238,238,238)"/><ellipse cx="51.3" cy="94.5" rx="2.2" ry="2.4" fill="rgb(221,221,221)"/><ellipse cx="52.9" cy="101.0" rx="1.5" ry="1.7" fill="rgb(178,178,178)"/><ellipse cx="11.0" cy="112.2" rx="3.0" ry="3.3" fill="rgb(230,230,230)"/><ellipse cx="20.6" cy="110.6" rx="3.0" ry="3.3" fill="rgb(230,230,230)"/><ellipse cx="7.7" cy="117.0" rx="1.6" ry="1.8" fill="rgb(187,187,187)"/><ellipse cx="28.7" cy="120.3" rx="1.6" ry="1.8" fill="rgb(178,178,178)"/><ellipse cx="67.4" cy="107.4" rx="2.5" ry="2.8" fill="rgb(230,230,230)"/><ellipse cx="73.9" cy="115.4" rx="1.8" ry="2.0" fill="rgb(221,221,221)"/><ellipse cx="38.4" cy="136.4" rx="2.5" ry="2.8" fill="rgb(221,221,221)"/><ellipse cx="62.6" cy="136.4" rx="2.2" ry="2.4" fill="rgb(162,162,162)"/><ellipse cx="119.0" cy="146.0" rx="2.0" ry="2.2" fill="rgb(221,221,221)"/><ellipse cx="133.5" cy="81.5" rx="2.8" ry="3.1" fill="rgb(153,153,153)"/><ellipse cx="136.0" cy="85.0" rx="2.0" ry="2.2" fill="rgb(170,170,170)"/><ellipse cx="146.5" cy="91.0" rx="1.6" ry="1.8" fill="rgb(162,162,162)"/><ellipse cx="4.5" cy="73.5" rx="1.5" ry="1.7" fill="rgb(162,162,162)"/><ellipse cx="128.7" cy="88.6" rx="1.8" ry="2.0" fill="rgb(212,212,212)"/><ellipse cx="159.4" cy="157.4" rx="1.8" ry="2.0" fill="rgb(178,178,178)"/><ellipse cx="86.8" cy="134.8" rx="1.5" ry="1.7" fill="rgb(162,162,162)"/><ellipse cx="44.8" cy="107.4" rx="1.4" ry="1.5" fill="rgb(170,170,170)"/><ellipse cx="93.2" cy="110.6" rx="1.4" ry="1.5" fill="rgb(162,162,162)"/><ellipse cx="115.0" cy="113.0" rx="1.3" ry="1.4" fill="rgb(153,153,153)"/><ellipse cx="30.0" cy="93.0" rx="1.3" ry="1.4" fill="rgb(153,153,153)"/><ellipse cx="80.0" cy="88.0" rx="1.3" ry="1.4" fill="rgb(162,162,162)"/><ellipse cx="150.0" cy="123.0" rx="1.5" ry="1.7" fill="rgb(153,153,153)"/><ellipse cx="104.5" cy="139.6" rx="8" ry="8.5" fill="rgb(162,162,162)"/><ellipse cx="104.5" cy="139.6" rx="5.5" ry="6" fill="rgb(231,231,231)"/><ellipse cx="135.2" cy="154" rx="7.5" ry="6.5" fill="rgb(170,170,170)"/><ellipse cx="135.2" cy="154" rx="6" ry="5" fill="rgb(235,235,235)"/></g></svg><div class="abs" style="left:0;top:0;width:174px;height:164px;box-sizing:border-box;border:1.5px solid #000"></div></div><div class="lbl" style="left:58.5px;top:652.5px;width:37.3px;height:37.5px;"></div><div class="abs" style="left:61.8px;top:659.5px;font-size:24.5px;line-height:1;color:#000">Cu</div><div class="abs" style="left:240px;top:527px;width:173.5px;height:164px;overflow:hidden"><svg width="173.5" height="164" viewBox="0 0 173.5 164" style="position:absolute;left:0;top:0"><g filter="url(#jo)"><rect width="173.5" height="164" fill="rgb(65,65,65)"/><path d="M0 0 H173.5 V9 C140 10 100 8 60 10 C40 11 20 9 0 10 Z" fill="rgb(0,0,0)"/><path d="M0 146 C30 148 50 144 80 147 C110 149 140 145 173.5 147 V164 H0 Z" fill="rgb(0,0,0)"/><ellipse cx="153" cy="33" rx="8" ry="6.5" fill="rgb(3,3,3)"/><path d="M20 45 C40 40 60 50 80 42 C100 38 120 48 140 44" stroke="rgb(54,54,54)" stroke-width="6" fill="none" opacity="0.8"/><ellipse cx="71.9" cy="51.5" rx="1.8" ry="1.8" fill="rgb(37,37,37)"/><ellipse cx="7.5" cy="128.3" rx="2.9" ry="3.2" fill="rgb(37,37,37)"/><ellipse cx="147.0" cy="99.2" rx="2.2" ry="2.3" fill="rgb(37,37,37)"/><ellipse cx="88.2" cy="138.1" rx="2.9" ry="2.5" fill="rgb(37,37,37)"/><ellipse cx="155.4" cy="111.9" rx="2.8" ry="3.4" fill="rgb(37,37,37)"/><ellipse cx="71.9" cy="128.6" rx="3.0" ry="3.3" fill="rgb(37,37,37)"/><ellipse cx="131.6" cy="114.2" rx="2.2" ry="2.5" fill="rgb(37,37,37)"/><ellipse cx="16.6" cy="67.6" rx="2.3" ry="1.6" fill="rgb(37,37,37)"/><ellipse cx="63.7" cy="100.3" rx="2.6" ry="2.1" fill="rgb(37,37,37)"/><ellipse cx="160.9" cy="103.3" rx="2.1" ry="2.3" fill="rgb(37,37,37)"/><ellipse cx="99.0" cy="88.6" rx="2.2" ry="2.8" fill="rgb(37,37,37)"/><ellipse cx="111.0" cy="107.1" rx="2.8" ry="3.6" fill="rgb(37,37,37)"/><ellipse cx="8.8" cy="97.7" rx="2.8" ry="2.4" fill="rgb(37,37,37)"/><ellipse cx="71.3" cy="35.6" rx="1.8" ry="1.7" fill="rgb(37,37,37)"/><ellipse cx="21.2" cy="57.6" rx="3.0" ry="3.1" fill="rgb(37,37,37)"/><ellipse cx="88.8" cy="136.4" rx="2.5" ry="3.2" fill="rgb(37,37,37)"/><ellipse cx="110.3" cy="119.0" rx="1.6" ry="1.7" fill="rgb(37,37,37)"/><ellipse cx="130.3" cy="35.0" rx="3.1" ry="2.5" fill="rgb(37,37,37)"/><ellipse cx="82.8" cy="48.6" rx="2.3" ry="2.5" fill="rgb(37,37,37)"/><ellipse cx="14.7" cy="134.0" rx="2.2" ry="2.3" fill="rgb(37,37,37)"/><ellipse cx="103.6" cy="70.2" rx="2.0" ry="2.2" fill="rgb(37,37,37)"/><ellipse cx="97.5" cy="61.2" rx="2.7" ry="2.4" fill="rgb(37,37,37)"/></g></svg><div class="abs" style="left:0;top:0;width:173.5px;height:164px;box-sizing:border-box;border:1.5px solid #000"></div></div><div class="lbl" style="left:238.2px;top:654px;width:37.3px;height:37px;"></div><div class="abs" style="left:245.6px;top:659.8px;font-size:24.5px;line-height:1;color:#000">O</div><div class="abs" style="left:448.8px;top:616.2px;width:116.9px;height:10.8px;background:linear-gradient(to right,#000 0px,#000 16.2px,rgb(0, 0, 255) 16.2px,rgb(0, 0, 255) 23.4px,rgb(0, 80, 255) 23.4px,rgb(0, 80, 255) 30.6px,rgb(0, 160, 255) 30.6px,rgb(0, 160, 255) 37.8px,rgb(0, 255, 255) 37.8px,rgb(0, 255, 255) 45.0px,rgb(0, 255, 160) 45.0px,rgb(0, 255, 160) 52.2px,rgb(0, 240, 80) 52.2px,rgb(0, 240, 80) 59.4px,rgb(0, 230, 0) 59.4px,rgb(0, 230, 0) 66.5px,rgb(100, 230, 0) 66.5px,rgb(100, 230, 0) 73.7px,rgb(180, 240, 0) 73.7px,rgb(180, 240, 0) 80.9px,rgb(255, 255, 0) 80.9px,rgb(255, 255, 0) 88.1px,rgb(255, 200, 0) 88.1px,rgb(255, 200, 0) 95.3px,rgb(255, 140, 0) 95.3px,rgb(255, 140, 0) 102.5px,rgb(255, 80, 0) 102.5px,rgb(255, 80, 0) 109.7px,rgb(255, 0, 0) 109.7px,rgb(255, 0, 0) 116.9px);border-bottom:1.4px solid #000;box-sizing:border-box"></div><div class="abs" style="left:483.5px;top:589.5px;font-size:24px;line-height:1;color:#000">conc.</div><div class="abs" style="left:431px;top:614px;font-size:24px;transform:scaleX(1.04);transform-origin:0 0;line-height:1;color:#000">L</div><div class="abs" style="left:567.6px;top:614px;font-size:24px;line-height:1;color:#000">H</div><div class="abs" style="left:6.8px;top:356.5px;font-size:33.5px;transform:scaleX(1.07);transform-origin:0 0;line-height:1;color:#000">(b)</div><svg class="abs" style="left:0;top:690px" width="620" height="263" viewBox="0 690 620 263" font-family="'Liberation Sans', Arial, sans-serif"><line x1="121" y1="702.8" x2="604.5" y2="702.8" stroke="#7a7a7a" stroke-width="1"/><polyline points="122.50,854.12 122.90,855.02 123.30,855.47 123.70,856.54 124.10,855.30 124.50,856.59 124.91,850.86 125.31,853.81 125.71,857.00 126.11,855.20 126.51,856.91 126.91,852.00 127.31,854.36 127.71,853.07 128.11,855.04 128.51,855.33 128.91,851.97 129.31,853.35 129.72,853.84 130.12,857.82 130.52,857.00 130.92,853.46 131.32,857.39 131.72,853.58 132.12,856.52 132.52,853.75 132.92,853.14 133.32,858.31 133.72,854.59 134.12,854.74 134.53,859.22 134.93,858.69 135.33,855.51 135.73,859.38 136.13,857.13 136.53,858.00 136.93,855.50 137.33,859.64 137.73,858.37 138.13,859.96 138.53,859.66 138.93,856.59 139.34,857.04 139.74,856.12 140.14,856.14 140.54,855.84 140.94,857.18 141.34,858.87 141.74,855.98 142.14,859.53 142.54,857.98 142.94,857.99 143.34,860.62 143.75,859.13 144.15,858.48 144.55,859.42 144.95,860.61 145.35,857.75 145.75,862.12 146.15,857.93 146.55,861.36 146.95,861.92 147.35,858.41 147.75,861.93 148.15,860.24 148.56,861.30 148.96,859.04 149.36,859.37 149.76,860.09 150.16,863.37 150.56,860.38 150.96,862.74 151.36,863.53 151.76,863.67 152.16,861.42 152.56,861.57 152.96,862.34 153.37,863.40 153.77,860.97 154.17,863.49 154.57,863.77 154.97,864.09 155.37,861.18 155.77,864.59 156.17,861.62 156.57,862.62 156.97,863.68 157.37,864.85 157.77,862.95 158.18,865.06 158.58,863.87 158.98,863.19 159.38,863.32 159.78,862.97 160.18,862.77 160.58,863.11 160.98,864.95 161.38,866.01 161.78,863.51 162.18,863.27 162.59,866.25 162.99,864.97 163.39,864.70 163.79,864.31 164.19,865.46 164.59,866.23 164.99,865.27 165.39,865.25 165.79,864.29 166.19,866.75 166.59,864.38 166.99,865.71 167.40,866.71 167.80,864.87 168.20,866.55 168.60,867.18 169.00,866.40 169.40,866.87 169.80,865.17 170.20,866.09 170.60,865.43 171.00,867.26 171.40,865.94 171.80,866.40 172.21,867.81 172.61,867.51 173.01,867.87 173.41,866.67 173.81,866.82 174.21,867.45 174.61,866.93 175.01,866.56 175.41,866.89 175.81,866.37 176.21,866.97 176.61,868.40 177.02,868.39 177.42,867.72 177.82,867.50 178.22,867.22 178.62,866.76 179.02,867.22 179.42,868.36 179.82,868.59 180.22,867.62 180.62,868.50 181.02,868.50 181.42,868.35 181.83,868.31 182.23,868.52 182.63,867.75 183.03,868.45 183.43,867.62 183.83,868.05 184.23,868.63 184.63,868.50 185.03,867.74 185.43,869.03 185.83,868.47 186.24,868.36 186.64,867.27 187.04,868.33 187.44,867.78 187.84,868.61 188.24,868.23 188.64,868.92 189.04,868.62 189.44,868.92 189.84,868.09 190.24,868.67 190.64,868.87 191.05,869.05 191.45,868.18 191.85,869.12 192.25,869.18 192.65,868.87 193.05,869.41 193.45,869.39 193.85,868.61 194.25,868.65 194.65,868.02 195.05,869.25 195.45,869.45 195.86,868.64 196.26,869.04 196.66,869.11 197.06,869.15 197.46,868.18 197.86,869.27 198.26,868.94 198.66,869.11 199.06,868.70 199.46,869.07 199.86,869.35 200.26,869.14 200.67,869.28 201.07,868.10 201.47,868.34 201.87,868.82 202.27,869.19 202.67,868.46 203.07,869.26 203.47,869.17 203.87,868.17 204.27,868.91 204.67,868.50 205.08,868.22 205.48,868.36 205.88,868.68 206.28,868.45 206.68,868.48 207.08,868.22 207.48,868.95 207.88,868.81 208.28,869.21 208.68,869.18 209.08,868.59 209.48,869.71 209.89,868.21 210.29,868.89 210.69,868.69 211.09,868.91 211.49,868.43 211.89,869.63 212.29,868.87 212.69,868.32 213.09,869.28 213.49,868.43 213.89,869.18 214.29,868.85 214.70,869.25 215.10,869.88 215.50,869.65 215.90,869.00 216.30,869.66 216.70,869.38 217.10,868.94 217.50,868.57 217.90,869.32 218.30,869.28 218.70,869.92 219.10,869.95 219.51,869.37 219.91,868.95 220.31,869.82 220.71,868.34 221.11,868.41 221.51,868.92 221.91,868.56 222.31,867.05 222.71,866.82 223.11,866.07 223.51,864.20 223.92,863.70 224.32,863.45 224.72,864.26 225.12,866.46 225.52,866.68 225.92,868.60 226.32,869.21 226.72,869.11 227.12,868.78 227.52,870.02 227.92,869.29 228.32,869.17 228.73,869.03 229.13,870.09 229.53,869.31 229.93,868.98 230.33,869.29 230.73,868.73 231.13,869.52 231.53,869.24 231.93,869.01 232.33,869.78 232.73,869.86 233.13,868.58 233.54,869.40 233.94,869.00 234.34,870.04 234.74,869.80 235.14,868.96 235.54,869.00 235.94,868.82 236.34,870.13 236.74,869.01 237.14,869.43 237.54,869.02 237.94,868.84 238.35,867.91 238.75,866.71 239.15,863.77 239.55,862.52 239.95,859.80 240.35,858.99 240.75,858.69 241.15,859.66 241.55,861.47 241.95,862.42 242.35,862.33 242.75,861.90 243.16,860.00 243.56,857.65 243.96,857.44 244.36,858.54 244.76,861.16 245.16,863.55 245.56,865.36 245.96,866.35 246.36,868.71 246.76,868.83 247.16,869.37 247.57,869.70 247.97,869.64 248.37,869.42 248.77,870.09 249.17,869.28 249.57,869.30 249.97,870.01 250.37,869.00 250.77,869.16 251.17,869.98 251.57,868.81 251.97,870.00 252.38,869.78 252.78,869.38 253.18,869.16 253.58,869.92 253.98,870.12 254.38,868.95 254.78,869.47 255.18,869.58 255.58,869.50 255.98,869.25 256.38,868.98 256.78,869.65 257.19,869.99 257.59,868.86 257.99,869.11 258.39,870.01 258.79,869.97 259.19,869.78 259.59,868.81 259.99,869.87 260.39,870.27 260.79,870.30 261.19,869.85 261.59,868.87 262.00,870.07 262.40,869.13 262.80,869.78 263.20,870.24 263.60,869.88 264.00,869.02 264.40,869.26 264.80,870.20 265.20,869.05 265.60,869.74 266.00,869.45 266.41,869.07 266.81,869.77 267.21,868.90 267.61,869.00 268.01,869.41 268.41,868.96 268.81,868.94 269.21,869.72 269.61,869.97 270.01,870.17 270.41,869.07 270.81,869.51 271.22,869.34 271.62,869.77 272.02,869.61 272.42,870.28 272.82,869.44 273.22,868.97 273.62,869.93 274.02,869.12 274.42,869.83 274.82,869.65 275.22,870.25 275.62,869.73 276.03,869.83 276.43,869.30 276.83,869.73 277.23,869.30 277.63,870.03 278.03,869.69 278.43,869.13 278.83,869.28 279.23,869.48 279.63,870.03 280.03,869.21 280.43,870.00 280.84,869.91 281.24,869.08 281.64,869.94 282.04,869.10 282.44,869.15 282.84,869.84 283.24,869.32 283.64,870.25 284.04,869.67 284.44,869.44 284.84,870.14 285.25,869.01 285.65,870.03 286.05,869.05 286.45,869.19 286.85,870.36 287.25,869.97 287.65,869.30 288.05,869.14 288.45,870.39 288.85,869.95 289.25,870.17 289.65,869.18 290.06,869.89 290.46,869.49 290.86,869.32 291.26,869.46 291.66,869.87 292.06,869.48 292.46,869.54 292.86,869.17 293.26,870.19 293.66,869.92 294.06,870.15 294.46,869.61 294.87,870.22 295.27,869.73 295.67,869.84 296.07,869.82 296.47,870.06 296.87,869.56 297.27,869.12 297.67,869.03 298.07,869.27 298.47,869.01 298.87,870.21 299.27,869.51 299.68,869.69 300.08,868.17 300.48,868.23 300.88,868.03 301.28,866.79 301.68,865.85 302.08,865.66 302.48,865.37 302.88,866.11 303.28,866.96 303.68,868.09 304.09,868.73 304.49,869.87 304.89,869.03 305.29,869.29 305.69,869.37 306.09,869.21 306.49,869.40 306.89,869.33 307.29,869.69 307.69,869.03 308.09,870.34 308.49,869.52 308.90,870.36 309.30,869.99 309.70,869.97 310.10,869.68 310.50,870.37 310.90,869.16 311.30,869.96 311.70,869.41 312.10,869.97 312.50,870.05 312.90,869.22 313.30,869.26 313.71,868.95 314.11,869.08 314.51,868.48 314.91,868.20 315.31,867.89 315.71,865.64 316.11,864.40 316.51,864.17 316.91,864.36 317.31,866.17 317.71,867.52 318.11,867.86 318.52,868.72 318.92,869.73 319.32,870.29 319.72,869.91 320.12,869.62 320.52,870.42 320.92,869.00 321.32,869.08 321.72,870.13 322.12,869.59 322.52,869.06 322.92,869.80 323.33,870.44 323.73,869.75 324.13,869.51 324.53,869.13 324.93,869.10 325.33,870.31 325.73,869.71 326.13,870.36 326.53,869.08 326.93,869.35 327.33,869.07 327.74,869.58 328.14,869.09 328.54,869.37 328.94,869.59 329.34,869.45 329.74,869.08 330.14,869.06 330.54,870.42 330.94,869.26 331.34,869.74 331.74,869.59 332.14,869.78 332.55,869.13 332.95,869.46 333.35,869.16 333.75,869.79 334.15,870.34 334.55,869.88 334.95,870.25 335.35,869.32 335.75,869.03 336.15,869.79 336.55,869.71 336.95,869.84 337.36,869.55 337.76,869.92 338.16,870.06 338.56,870.33 338.96,869.46 339.36,869.66 339.76,870.21 340.16,869.33 340.56,869.18 340.96,869.46 341.36,869.14 341.76,870.13 342.17,870.20 342.57,869.47 342.97,869.20 343.37,869.13 343.77,869.37 344.17,869.13 344.57,869.63 344.97,869.85 345.37,869.37 345.77,869.10 346.17,870.03 346.58,869.08 346.98,869.30 347.38,869.43 347.78,869.55 348.18,869.14 348.58,869.60 348.98,869.42 349.38,870.02 349.78,869.69 350.18,870.11 350.58,869.67 350.98,869.70 351.39,869.29 351.79,868.93 352.19,869.29 352.59,868.88 352.99,869.15 353.39,868.69 353.79,868.57 354.19,867.91 354.59,868.73 354.99,868.19 355.39,867.96 355.79,868.03 356.20,868.36 356.60,868.67 357.00,869.44 357.40,869.02 357.80,868.82 358.20,869.93 358.60,869.70 359.00,868.98 359.40,869.05 359.80,869.18 360.20,869.52 360.60,870.26 361.01,870.39 361.41,869.91 361.81,869.36 362.21,869.65 362.61,869.55 363.01,869.50 363.41,869.04 363.81,869.87 364.21,870.22 364.61,870.08 365.01,869.17 365.42,869.80 365.82,869.28 366.22,870.06 366.62,869.67 367.02,870.39 367.42,870.18 367.82,869.20 368.22,869.49 368.62,870.35 369.02,869.70 369.42,869.66 369.82,869.67 370.23,870.14 370.63,870.39 371.03,869.80 371.43,870.43 371.83,869.89 372.23,869.18 372.63,870.21 373.03,869.64 373.43,869.11 373.83,870.45 374.23,869.08 374.63,869.87 375.04,869.73 375.44,870.31 375.84,869.60 376.24,869.35 376.64,869.44 377.04,869.33 377.44,869.85 377.84,869.55 378.24,870.12 378.64,869.39 379.04,869.55 379.44,869.40 379.85,870.46 380.25,870.25 380.65,870.27 381.05,869.93 381.45,869.62 381.85,869.25 382.25,870.24 382.65,869.75 383.05,869.10 383.45,869.29 383.85,869.18 384.26,870.08 384.66,870.34 385.06,869.33 385.46,870.19 385.86,869.51 386.26,870.03 386.66,870.29 387.06,869.94 387.46,870.20 387.86,869.59 388.26,869.06 388.66,869.78 389.07,869.89 389.47,869.31 389.87,869.61 390.27,869.50 390.67,869.09 391.07,869.50 391.47,869.60 391.87,869.73 392.27,870.06 392.67,869.62 393.07,870.46 393.47,870.22 393.88,870.38 394.28,870.05 394.68,870.02 395.08,869.82 395.48,870.20 395.88,869.57 396.28,869.91 396.68,870.03 397.08,869.80 397.48,869.46 397.88,869.16 398.28,869.18 398.69,869.56 399.09,869.89 399.49,870.15 399.89,870.08 400.29,869.49 400.69,870.39 401.09,869.45 401.49,870.09 401.89,869.16 402.29,870.14 402.69,870.02 403.09,870.43 403.50,870.35 403.90,870.05 404.30,870.26 404.70,870.12 405.10,869.93 405.50,869.34 405.90,869.76 406.30,870.26 406.70,869.24 407.10,870.19 407.50,869.41 407.91,868.98 408.31,868.15 408.71,868.41 409.11,867.80 409.51,868.22 409.91,868.39 410.31,868.32 410.71,867.89 411.11,867.64 411.51,867.33 411.91,868.22 412.31,867.99 412.72,868.09 413.12,867.40 413.52,867.92 413.92,866.80 414.32,866.91 414.72,867.00 415.12,867.79 415.52,868.58 415.92,867.95 416.32,869.02 416.72,869.54 417.12,869.01 417.53,868.94 417.93,869.77 418.33,870.21 418.73,870.31 419.13,870.10 419.53,869.66 419.93,869.68 420.33,869.83 420.73,870.37 421.13,869.50 421.53,869.47 421.93,869.94 422.34,870.46 422.74,869.34 423.14,869.11 423.54,869.24 423.94,869.88 424.34,869.94 424.74,869.33 425.14,869.34 425.54,869.92 425.94,870.00 426.34,870.06 426.75,870.12 427.15,869.16 427.55,869.77 427.95,870.27 428.35,870.45 428.75,869.53 429.15,870.29 429.55,870.00 429.95,870.40 430.35,869.40 430.75,870.07 431.15,870.28 431.56,869.76 431.96,869.22 432.36,869.35 432.76,869.30 433.16,869.21 433.56,869.29 433.96,869.96 434.36,869.23 434.76,870.16 435.16,870.13 435.56,870.25 435.96,870.23 436.37,870.10 436.77,870.40 437.17,870.45 437.57,869.98 437.97,870.46 438.37,869.23 438.77,869.23 439.17,869.17 439.57,869.38 439.97,869.62 440.37,869.74 440.77,870.06 441.18,870.15 441.58,869.20 441.98,869.66 442.38,869.86 442.78,869.62 443.18,869.25 443.58,869.94 443.98,869.62 444.38,870.06 444.78,869.79 445.18,870.46 445.59,870.44 445.99,869.19 446.39,870.17 446.79,870.12 447.19,869.51 447.59,869.25 447.99,869.77 448.39,869.59 448.79,870.14 449.19,870.40 449.59,869.64 449.99,869.50 450.40,869.80 450.80,870.09 451.20,870.22 451.60,869.91 452.00,869.51 452.40,869.57 452.80,870.30 453.20,869.83 453.60,869.16 454.00,869.69 454.40,869.43 454.80,870.03 455.21,869.16 455.61,869.39 456.01,868.99 456.41,869.22 456.81,869.35 457.21,867.75 457.61,866.15 458.01,865.27 458.41,862.42 458.81,861.56 459.21,861.75 459.61,861.06 460.02,863.38 460.42,864.46 460.82,865.63 461.22,867.34 461.62,868.60 462.02,869.09 462.42,869.59 462.82,869.08 463.22,869.38 463.62,870.48 464.02,869.73 464.43,869.77 464.83,869.22 465.23,869.48 465.63,870.41 466.03,869.93 466.43,869.40 466.83,868.08 467.23,867.09 467.63,864.65 468.03,858.68 468.43,849.82 468.83,836.67 469.24,818.12 469.64,796.54 470.04,773.43 470.44,754.21 470.84,742.84 471.24,739.09 471.64,746.02 472.04,759.91 472.44,778.51 472.84,797.35 473.24,816.38 473.64,831.25 474.05,843.34 474.45,851.12 474.85,858.35 475.25,862.24 475.65,865.98 476.05,867.91 476.45,867.96 476.85,868.91 477.25,869.00 477.65,869.34 478.05,868.95 478.45,869.21 478.86,868.06 479.26,867.75 479.66,867.87 480.06,867.22 480.46,867.76 480.86,868.79 481.26,869.16 481.66,868.57 482.06,868.64 482.46,870.02 482.86,870.35 483.26,869.91 483.67,869.29 484.07,869.44 484.47,870.42 484.87,870.45 485.27,869.16 485.67,869.38 486.07,869.73 486.47,869.49 486.87,870.19 487.27,869.65 487.67,870.22 488.08,869.33 488.48,869.85 488.88,870.50 489.28,870.12 489.68,869.25 490.08,869.28 490.48,870.03 490.88,869.65 491.28,869.64 491.68,869.80 492.08,869.95 492.48,870.49 492.89,869.46 493.29,869.93 493.69,869.49 494.09,869.90 494.49,870.16 494.89,869.31 495.29,869.81 495.69,870.13 496.09,869.13 496.49,870.22 496.89,869.72 497.29,869.84 497.70,869.99 498.10,870.25 498.50,869.20 498.90,869.84 499.30,869.18 499.70,869.67 500.10,869.62 500.50,869.16 500.90,869.55 501.30,869.77 501.70,870.06 502.10,870.44 502.51,869.65 502.91,869.88 503.31,870.14 503.71,870.46 504.11,870.48 504.51,870.53 504.91,869.56 505.31,869.37 505.71,870.45 506.11,869.24 506.51,869.77 506.92,870.17 507.32,869.88 507.72,869.68 508.12,870.44 508.52,869.56 508.92,869.91 509.32,870.31 509.72,869.33 510.12,869.63 510.52,869.83 510.92,869.94 511.32,869.43 511.73,869.78 512.13,869.22 512.53,869.26 512.93,869.62 513.33,869.34 513.73,870.51 514.13,869.51 514.53,869.53 514.93,870.25 515.33,870.19 515.73,869.51 516.13,870.31 516.54,870.02 516.94,869.69 517.34,870.03 517.74,869.49 518.14,869.51 518.54,870.38 518.94,869.76 519.34,870.41 519.74,869.39 520.14,869.33 520.54,869.21 520.94,870.19 521.35,869.94 521.75,869.15 522.15,869.20 522.55,870.31 522.95,869.84 523.35,870.38 523.75,869.20 524.15,869.98 524.55,869.31 524.95,870.16 525.35,870.01 525.76,870.01 526.16,869.46 526.56,870.49 526.96,869.30 527.36,869.24 527.76,870.11 528.16,869.28 528.56,869.24 528.96,869.80 529.36,870.06 529.76,870.41 530.16,870.17 530.57,869.25 530.97,870.06 531.37,870.34 531.77,869.31 532.17,870.20 532.57,869.48 532.97,869.47 533.37,868.92 533.77,869.75 534.17,869.01 534.57,868.99 534.97,867.69 535.38,866.57 535.78,866.15 536.18,866.02 536.58,867.18 536.98,866.64 537.38,867.15 537.78,868.21 538.18,868.39 538.58,869.28 538.98,869.80 539.38,869.97 539.78,869.36 540.19,869.34 540.59,869.84 540.99,870.12 541.39,869.79 541.79,869.96 542.19,870.44 542.59,869.36 542.99,869.53 543.39,869.85 543.79,869.91 544.19,870.43 544.60,869.94 545.00,870.09 545.40,869.75 545.80,870.27 546.20,870.34 546.60,869.57 547.00,869.31 547.40,869.53 547.80,869.66 548.20,870.42 548.60,869.53 549.00,870.05 549.41,870.06 549.81,870.51 550.21,869.33 550.61,870.25 551.01,869.64 551.41,869.31 551.81,870.05 552.21,870.35 552.61,869.98 553.01,869.23 553.41,870.53 553.81,869.71 554.22,870.06 554.62,870.19 555.02,869.53 555.42,869.74 555.82,869.63 556.22,869.30 556.62,869.26 557.02,870.18 557.42,869.74 557.82,870.38 558.22,869.24 558.62,869.55 559.03,869.33 559.43,870.33 559.83,869.98 560.23,869.93 560.63,869.12 561.03,868.24 561.43,868.34 561.83,867.77 562.23,867.28 562.63,867.97 563.03,867.65 563.43,867.61 563.84,868.48 564.24,869.41 564.64,869.74 565.04,869.33 565.44,869.02 565.84,870.09 566.24,869.25 566.64,869.89 567.04,869.27 567.44,870.56 567.84,869.93 568.25,869.79 568.65,869.56 569.05,869.95 569.45,870.54 569.85,869.78 570.25,869.47 570.65,869.90 571.05,870.47 571.45,869.71 571.85,870.07 572.25,870.47 572.65,869.64 573.06,870.32 573.46,869.92 573.86,869.37 574.26,869.25 574.66,870.50 575.06,869.83 575.46,869.80 575.86,870.46 576.26,869.97 576.66,869.86 577.06,869.55 577.46,870.17 577.87,869.46 578.27,869.73 578.67,870.09 579.07,869.81 579.47,869.07 579.87,869.08 580.27,869.67 580.67,869.60 581.07,868.60 581.47,869.74 581.87,868.41 582.27,868.36 582.68,868.18 583.08,868.63 583.48,868.86 583.88,869.21 584.28,868.28 584.68,869.11 585.08,868.37 585.48,869.15 585.88,868.81 586.28,869.08 586.68,868.77 587.09,869.81 587.49,869.06 587.89,870.04 588.29,869.50 588.69,869.90 589.09,870.01 589.49,869.82 589.89,870.38 590.29,870.46 590.69,869.57 591.09,869.65 591.49,870.42 591.90,869.38 592.30,869.78 592.70,869.77 593.10,870.56 593.50,869.37 593.90,870.11 594.30,870.25 594.70,870.21 595.10,869.20 595.50,870.52 595.90,869.63 596.30,870.39 596.71,870.12 597.11,869.79 597.51,870.37 597.91,870.14 598.31,869.67 598.71,870.22 599.11,869.90 599.51,870.19 599.91,870.06 600.31,870.31 600.71,869.42 601.11,869.89 601.52,869.20 601.92,870.31 602.32,870.28 602.72,870.37" fill="none" stroke="#000" stroke-width="1.4" stroke-linejoin="round"/><line x1="122.4" y1="870.9" x2="603.8" y2="870.9" stroke="#000" stroke-width="1.1"/><line x1="122.3" y1="702.8" x2="122.3" y2="876.8" stroke="#000" stroke-width="1.8"/><line x1="603.8" y1="703" x2="603.8" y2="876.5" stroke="#000" stroke-width="1.6"/><path d="M130.52 870.9 V874.0 M138.53 870.9 V874.0 M146.55 870.9 V874.0 M154.57 870.9 V874.0 M162.58 870.9 V874.0 M170.60 870.9 V874.0 M178.62 870.9 V874.0 M186.64 870.9 V874.0 M194.65 870.9 V874.0 M210.69 870.9 V874.0 M218.70 870.9 V874.0 M226.72 870.9 V874.0 M234.74 870.9 V874.0 M242.75 870.9 V874.0 M250.77 870.9 V874.0 M258.79 870.9 V874.0 M266.81 870.9 V874.0 M274.82 870.9 V874.0 M290.86 870.9 V874.0 M298.87 870.9 V874.0 M306.89 870.9 V874.0 M314.91 870.9 V874.0 M322.92 870.9 V874.0 M330.94 870.9 V874.0 M338.96 870.9 V874.0 M346.98 870.9 V874.0 M354.99 870.9 V874.0 M371.03 870.9 V874.0 M379.04 870.9 V874.0 M387.06 870.9 V874.0 M395.08 870.9 V874.0 M403.09 870.9 V874.0 M411.11 870.9 V874.0 M419.13 870.9 V874.0 M427.15 870.9 V874.0 M435.16 870.9 V874.0 M451.20 870.9 V874.0 M459.21 870.9 V874.0 M467.23 870.9 V874.0 M475.25 870.9 V874.0 M483.26 870.9 V874.0 M491.28 870.9 V874.0 M499.30 870.9 V874.0 M507.32 870.9 V874.0 M515.33 870.9 V874.0 M531.37 870.9 V874.0 M539.38 870.9 V874.0 M547.40 870.9 V874.0 M555.42 870.9 V874.0 M563.43 870.9 V874.0 M571.45 870.9 V874.0 M579.47 870.9 V874.0 M587.49 870.9 V874.0 M595.50 870.9 V874.0" stroke="#000" stroke-width="1.5"/><path d="M122.50 870.9 V877.5 M202.67 870.9 V877.5 M282.84 870.9 V877.5 M363.01 870.9 V877.5 M443.18 870.9 V877.5 M523.35 870.9 V877.5 M603.52 870.9 V877.5" stroke="#000" stroke-width="1.6"/><text x="122.50" y="899.1" font-size="19" text-anchor="middle">20</text><text x="202.67" y="899.1" font-size="19" text-anchor="middle">30</text><text x="282.84" y="899.1" font-size="19" text-anchor="middle">40</text><text x="363.01" y="899.1" font-size="19" text-anchor="middle">50</text><text x="443.18" y="899.1" font-size="19" text-anchor="middle">60</text><text x="523.35" y="899.1" font-size="19" text-anchor="middle">70</text><text x="603.52" y="899.1" font-size="19" text-anchor="middle">80</text><text x="250" y="941.5" font-size="23" textLength="230" lengthAdjust="spacingAndGlyphs">Diffraction Angle (2<tspan font-style="italic">θ</tspan>)</text><text transform="translate(108.3 890) rotate(-90)" font-size="23.5" textLength="189.5" lengthAdjust="spacingAndGlyphs">Relative Intensity</text><rect x="139.2" y="717.5" width="15.6" height="15.6" rx="2.2" fill="#000"/><rect x="216.0" y="845.2" width="15.6" height="15.6" rx="2.2" fill="#000"/><rect x="237.2" y="816.4" width="15.6" height="15.6" rx="2.2" fill="#000"/><rect x="346.5" y="847.4" width="15.6" height="15.6" rx="2.2" fill="#000"/><rect x="415.5" y="847.3" width="15.6" height="15.6" rx="2.2" fill="#000"/><rect x="450.1" y="841.4" width="15.6" height="15.6" rx="2.2" fill="#000"/><rect x="464.2" y="722.2" width="15.6" height="15.6" rx="2.2" fill="#000"/><rect x="528.4" y="845.0" width="15.6" height="15.6" rx="2.2" fill="#000"/><rect x="553.2" y="848.5" width="15.6" height="15.6" rx="2.2" fill="#000"/><path d="M142.50 747.40 L154.30 747.40 L148.40 759.00 Z" fill="none" stroke="#000" stroke-width="3.2" stroke-linejoin="round"/><path d="M233.50 840.50 L245.30 840.50 L239.40 852.10 Z" fill="none" stroke="#000" stroke-width="3.2" stroke-linejoin="round"/><path d="M297.10 847.70 L308.90 847.70 L303.00 859.30 Z" fill="none" stroke="#000" stroke-width="3.2" stroke-linejoin="round"/><path d="M404.30 840.80 L416.10 840.80 L410.20 852.40 Z" fill="none" stroke="#000" stroke-width="3.2" stroke-linejoin="round"/><text transform="translate(166.3 734.6) scale(1.1 1)" x="0" y="0" font-size="23">Fe<tspan font-size="16" dy="4.8">2</tspan><tspan dy="-4.8">O</tspan><tspan font-size="16" dy="4.8">3</tspan></text><text transform="translate(166.3 761.7) scale(1.1 1)" x="0" y="0" font-size="23">FeMnO<tspan font-size="16" dy="4.8">3</tspan></text><text transform="translate(27.3 741.6) scale(1.06 1)" font-size="33.5">(c)</text></svg></body></html>
